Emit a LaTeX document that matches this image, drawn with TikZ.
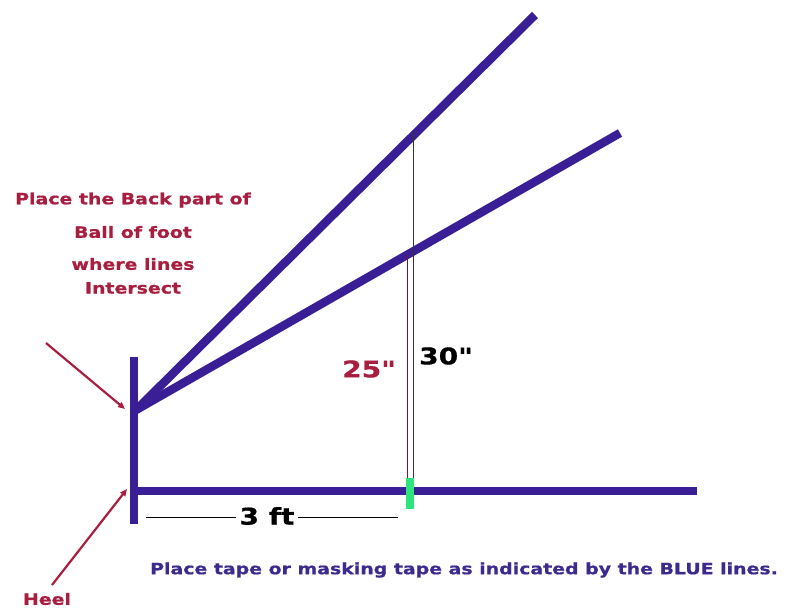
\documentclass[tikz,border=0pt]{standalone}
\usepackage{fontspec}
\setmainfont{DejaVu Sans}
\newfontfamily\notefont[FakeStretch=1.22,FakeBold=0.8]{DejaVu Sans Bold}
\usepackage{tikz}
\usetikzlibrary{arrows.meta,positioning}

\definecolor{tapeblue}{RGB}{58,30,150}
\definecolor{notered}{RGB}{168,30,62}
\definecolor{textblue}{RGB}{62,42,140}
\definecolor{markgreen}{RGB}{45,228,125}

\begin{document}
\begin{tikzpicture}[
    x=1pt, y=-1pt,
    tape/.style={draw=tapeblue, line width=8.5pt},
    note/.style={text=notered, font=\notefont\fontsize{15.5}{18}\selectfont, inner sep=0pt},
    pointer/.style={draw=notered, line width=2.2pt, -{Triangle[length=7pt,width=6pt]}},
    measure/.style={line width=0.8pt},
    dim/.style={font=\notefont\fontsize{23}{26}\selectfont, inner sep=3pt}
]
\useasboundingbox (0,0) rectangle (803,608);

% tape lines
\coordinate (ball) at (136,410);
\coordinate (heeltop) at (134,357);
\coordinate (heelbot) at (134,524);
\coordinate (heel) at (134,491);
\coordinate (baseend) at (697,491);
\coordinate (steepend) at (535,15);
\coordinate (flatend) at (620,133);
\draw[tape] (heeltop) -- (heelbot);
\draw[tape] (heel) -- (baseend);
\draw[tape] (ball) -- (steepend);
\draw[tape] (ball) -- (flatend);

% measuring lines
\coordinate (low25) at (407,491);
\coordinate (top25) at (407,255);
\coordinate (low30) at (413,491);
\coordinate (top30) at (413,132);
\draw[measure, draw={rgb,255:red,110;green,25;blue,45}] (low25) -- (top25);
\draw[measure, draw=black!80] (low30) -- (top30);
\node[dim, text=notered] (len25) at (369,369) {25"};
\node[dim, text=black] (len30) at (446,356) {30"};

% tape mark
\coordinate (markbot) at (410,509);
\coordinate (marktop) at (410,478);
\draw[draw=markgreen, line width=8pt] (markbot) -- (marktop);

% 3 ft
\node[dim, text=black] (feet) at (267,516) {3 ft};
\coordinate (feetl) at (146,517);
\coordinate (feetr) at (398,517);
\draw[measure] (feetl) -- (feet.west |- feetl);
\draw[measure] (feet.east |- feetr) -- (feetr);

% notes
\node[note] (line1) at (133,200) {Place the Back part of};
\node[note] (line2) at (133,232) {Ball of foot};
\node[note] (line3) at (133,264) {where lines};
\node[note] (line4) at (133,288) {Intersect};
\node[note] (heelnote) at (47,599) {Heel};
\coordinate (ballfrom) at (46,343);
\coordinate (ballto) at (125,409);
\coordinate (heelfrom) at (52,585);
\coordinate (heelto) at (127,489);
\draw[pointer] (ballfrom) -- (ballto);
\draw[pointer] (heelfrom) -- (heelto);

\node[note, text=textblue] (tapenote) at (464,570) {Place tape or masking tape as indicated by the BLUE lines.};
\end{tikzpicture}
\end{document}
